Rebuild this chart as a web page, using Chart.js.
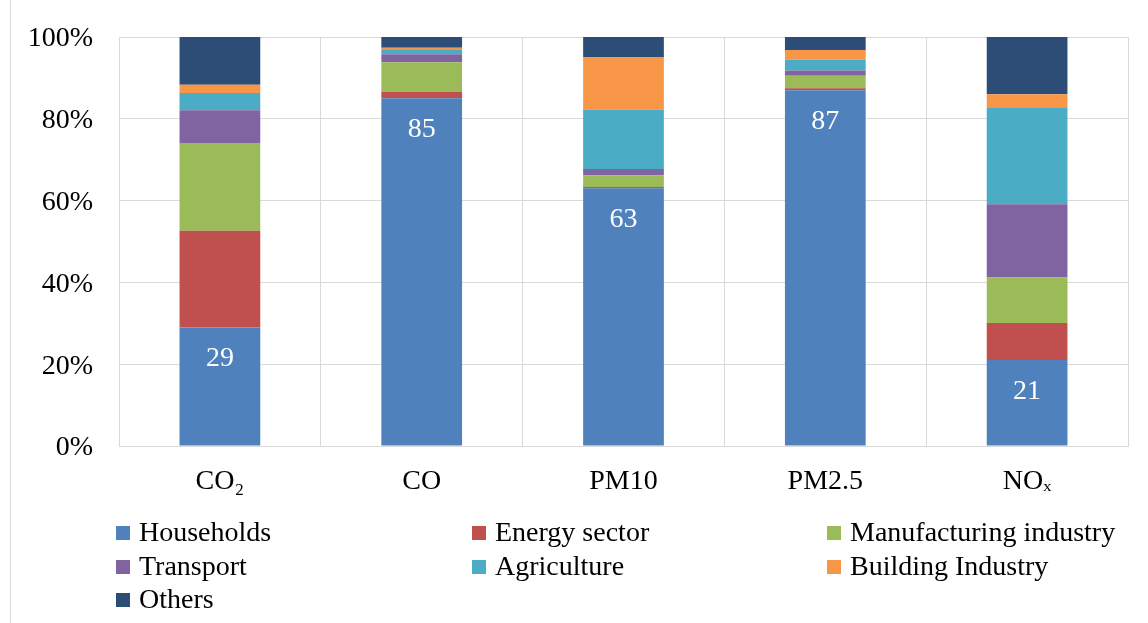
<!DOCTYPE html>
<html>
<head>
<meta charset="utf-8">
<script src="https://cdn.jsdelivr.net/npm/chart.js@4/dist/chart.umd.min.js"></script>
<style>
  html, body { margin: 0; padding: 0; background: #ffffff; }
  #wrap { position: relative; width: 1148px; height: 623px; overflow: hidden; }
  #frame { position: absolute; left: 10px; top: 0; width: 1px; height: 623px; background: #d9d9d9; }
  #chart { position: absolute; left: 0; top: 0; }
  #legend {
    position: absolute; left: 116px; top: 515px;
    display: grid; grid-template-columns: 356px 355px 320px;
    font-family: "Liberation Serif", serif; font-size: 28px; color: #000;
  }
  #legend .item { height: 33.5px; line-height: 33.5px; white-space: nowrap; }
  #legend .box { display: inline-block; width: 14px; height: 14px; margin-right: 9px; vertical-align: 1px; }
</style>
</head>
<body>
<div id="wrap">
  <div id="frame"></div>
  <canvas id="chart" width="1148" height="623"></canvas>
  <div id="legend"></div>
</div>
<script>
// Pollutants on the category axis
const pollutants = ['CO\u2082', 'CO', 'PM10', 'PM2.5', 'NO\u2093'];

// Share of each source sector in total emissions (%)
const households    = [29, 85, 63, 87, 21];
const energySector  = [23.6, 1.6, 0.3, 0.5, 9.1];
const manufacturing = [21.5, 7.2, 2.9, 3.0, 11.1];
const transport     = [8.0, 2.0, 1.5, 1.3, 17.9];
const agriculture   = [4.2, 1.2, 14.6, 2.7, 23.7];
const building      = [2.0, 0.4, 12.8, 2.3, 3.2];
const others        = [11.7, 2.6, 4.9, 3.2, 14.0];

// Percent ticks on the value axis
const percentTicks = [0, 20, 40, 60, 80, 100];

const FONT = '"Liberation Serif", serif';

const datasets = [
  { label: 'Households',            data: households,    backgroundColor: '#4F81BD', showValue: true },
  { label: 'Energy sector',         data: energySector,  backgroundColor: '#C0504D' },
  { label: 'Manufacturing industry',data: manufacturing, backgroundColor: '#9BBB59' },
  { label: 'Transport',             data: transport,     backgroundColor: '#8064A2' },
  { label: 'Agriculture',           data: agriculture,   backgroundColor: '#4BACC6' },
  { label: 'Building Industry',     data: building,      backgroundColor: '#F79646' },
  { label: 'Others',                data: others,        backgroundColor: '#2C4D75' }
];

// White value labels near the top of the household segments
const valueLabels = {
  id: 'valueLabels',
  afterDatasetsDraw(chart) {
    const ctx = chart.ctx;
    ctx.save();
    ctx.font = '28px ' + FONT;
    ctx.fillStyle = '#ffffff';
    ctx.textAlign = 'center';
    ctx.textBaseline = 'alphabetic';
    chart.data.datasets.forEach((ds, i) => {
      if (!ds.showValue) return;
      chart.getDatasetMeta(i).data.forEach((bar, j) => {
        ctx.fillText(String(Math.round(ds.data[j])), bar.x, bar.y + 39);
      });
    });
    ctx.restore();
  }
};

const chart = new Chart(document.getElementById('chart'), {
  type: 'bar',
  data: { labels: pollutants, datasets: datasets.map(d => Object.assign({ borderWidth: 0 }, d)) },
  options: {
    responsive: false,
    animation: false,
    devicePixelRatio: 1,
    layout: { padding: { left: 0, top: 37, right: 20, bottom: 117 } },
    plugins: { legend: { display: false }, tooltip: { enabled: false } },
    datasets: { bar: { barPercentage: 0.4, categoryPercentage: 1.0 } },
    scales: {
      x: {
        stacked: true,
        grid: { color: '#d9d9d9', lineWidth: 1, drawTicks: false, offset: true },
        border: { color: '#d9d9d9' },
        ticks: { color: '#000', font: { family: FONT, size: 28 }, padding: 19, maxRotation: 0 },
        afterFit(scale) { scale.height = 60; }
      },
      y: {
        stacked: true,
        min: 0, max: 100,
        afterBuildTicks(scale) { scale.ticks = percentTicks.map(v => ({ value: v })); },
        grid: { color: '#d9d9d9', lineWidth: 1, drawTicks: false },
        border: { color: '#d9d9d9' },
        ticks: { color: '#000', font: { family: FONT, size: 28 }, padding: 26, labelOffset: 2, callback: v => v + '%' },
        afterFit(scale) {
          scale.width = 119;
          scale.paddingTop = 0;
          scale.paddingBottom = 0;
        }
      }
    }
  },
  plugins: [valueLabels]
});

// Three-column legend built from the chart's datasets
const legendEl = document.getElementById('legend');
chart.data.datasets.forEach(ds => {
  const item = document.createElement('div');
  item.className = 'item';
  const box = document.createElement('span');
  box.className = 'box';
  box.style.background = ds.backgroundColor;
  item.appendChild(box);
  item.appendChild(document.createTextNode(ds.label));
  legendEl.appendChild(item);
});
</script>
</body>
</html>
